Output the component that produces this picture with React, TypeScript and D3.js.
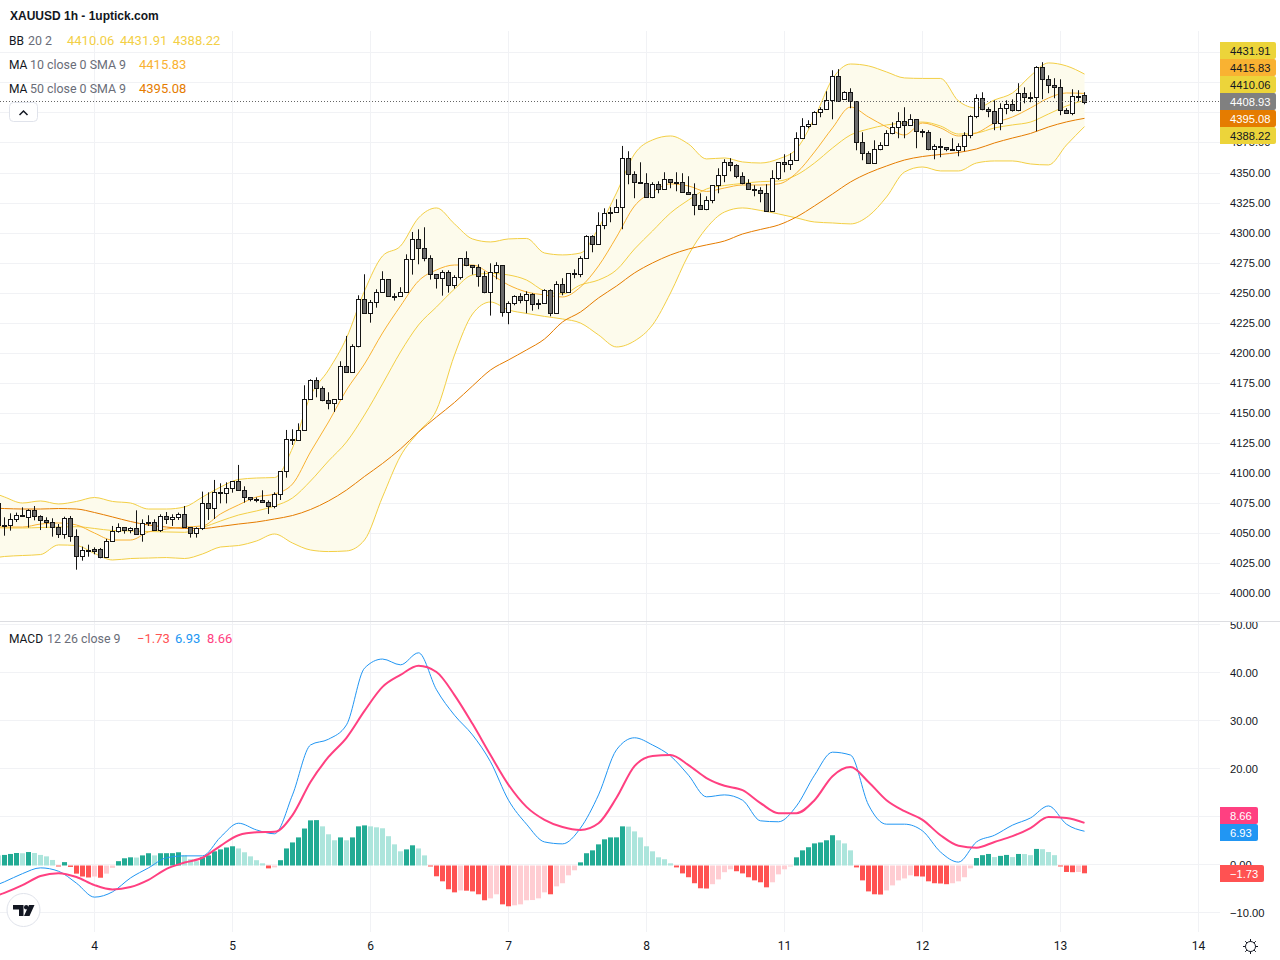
import * as d3 from 'd3'

// candle index -1 is the one cut off by the left edge, the last one is 180
const FIRST_CANDLE = -1

const opens = [
  4074.6, 4056.3, 4056.3, 4061.9, 4064.7, 4063.5, 4068.8, 4063.8, 4060.5, 4058.8,
  4054.7, 4048.8, 4062.2, 4047.2, 4031.1, 4035.5, 4036.4, 4036.4, 4029.7, 4043,
  4051.3, 4054.7, 4052.2, 4053.8, 4048.8, 4058.8, 4058.8, 4052.2, 4063.8, 4061.3,
  4063, 4065.5, 4054.7, 4049.7, 4053.8, 4074.6, 4070.5, 4083.8, 4083, 4087.1,
  4093, 4085.5, 4079.6, 4078, 4077.1, 4075.5, 4072.2, 4082.1, 4101.3, 4128.5,
  4127.4, 4135.4, 4161.2, 4177, 4170.4, 4160.4, 4157.9, 4161.2, 4188.7, 4183.7,
  4205.4, 4244.5, 4232.8, 4242, 4250.3, 4261.1, 4247, 4247, 4250.3, 4277.8,
  4294.4, 4286.9, 4278.6, 4265.3, 4262, 4267, 4256.1, 4262.8, 4278.6, 4272.8,
  4271.1, 4263.6, 4250.3, 4267, 4272.8, 4233.7, 4241.1, 4247, 4243.6, 4248.6,
  4241.1, 4241.1, 4252, 4232.8, 4257, 4250.3, 4266.1, 4265.3, 4278.6, 4296.9,
  4290.3, 4306.1, 4316.9, 4316.9, 4321.1, 4361.9, 4348.5, 4341.9, 4341, 4329.4,
  4340.2, 4336, 4344.4, 4341.9, 4341.9, 4333.6, 4331.9, 4322.7, 4319.4, 4326.9,
  4339.4, 4347.7, 4358.5, 4356, 4346.9, 4341, 4336, 4335.2, 4332.7, 4317.7,
  4345.2, 4358.5, 4356.9, 4360.2, 4378.5, 4388.5, 4390.2, 4400.2, 4402.7, 4410.1,
  4430.1, 4410.9, 4416.8, 4409.3, 4375.2, 4366, 4357.7, 4369.4, 4372.7, 4382.7,
  4387.7, 4392.7, 4389.3, 4394.3, 4384.3, 4383.5, 4369.4, 4371.9, 4371, 4369.4,
  4368.5, 4371.9, 4381, 4396.8, 4411.8, 4402.7, 4401, 4391, 4403.5, 4406.8,
  4401.8, 4416, 4412.6, 4412.6, 4437.6, 4427.6, 4422.6, 4421, 4401.8, 4399.3,
  4414, 4414.3,
]

const closes = [
  4056.3, 4056, 4061.9, 4064.7, 4063.8, 4068.8, 4063.8, 4060.5, 4058.8, 4054.7,
  4048.8, 4062.2, 4047.2, 4031.1, 4035.5, 4035.3, 4035.2, 4029.7, 4043, 4051.3,
  4054.7, 4052.2, 4053.8, 4048.8, 4058, 4058, 4052.2, 4063.8, 4061.3, 4063,
  4065.5, 4054.7, 4049.7, 4053.8, 4074.6, 4070.5, 4083.8, 4083, 4087.1, 4093,
  4085.5, 4079.6, 4078, 4077.1, 4075.5, 4072.2, 4082.1, 4101.3, 4128.5, 4127.4,
  4135.4, 4161.2, 4177, 4170.4, 4160.4, 4157.9, 4161.2, 4188.7, 4183.7, 4205.4,
  4244.5, 4232.8, 4242, 4250.3, 4261.1, 4247, 4246.8, 4250.3, 4277.8, 4294.4,
  4286.9, 4278.6, 4265.3, 4262, 4267, 4256.1, 4262.8, 4278.6, 4272.8, 4271.1,
  4263.6, 4250.3, 4267, 4272.8, 4233.7, 4241.1, 4247, 4243.6, 4248.6, 4240.3,
  4240.3, 4252, 4232.8, 4257, 4250.3, 4266.1, 4265.3, 4278.6, 4296.9, 4290.3,
  4306.1, 4316.1, 4316.1, 4321.1, 4361.9, 4348.5, 4341.9, 4341, 4329.4, 4340.2,
  4336, 4344.4, 4341.9, 4341.7, 4333.6, 4331.9, 4322.7, 4319.4, 4326.9, 4339.4,
  4347.7, 4358.5, 4356, 4346.9, 4341, 4336, 4335.2, 4332.7, 4317.7, 4345.2,
  4358.5, 4356.9, 4360.2, 4378.5, 4388.5, 4390.2, 4400.2, 4402.7, 4410.1, 4430.1,
  4409.3, 4416.8, 4409.3, 4375.2, 4366, 4357.7, 4369.4, 4372.7, 4382.7, 4387.7,
  4392.7, 4389.3, 4394.3, 4384.3, 4383.5, 4369.4, 4371.9, 4371, 4369.4, 4368.5,
  4371.9, 4381, 4396.8, 4411.8, 4402.7, 4401, 4391, 4403.5, 4406.8, 4401.8,
  4416, 4412.6, 4411.8, 4437.6, 4427.6, 4422.6, 4421, 4401.8, 4399.3, 4413.5,
  4413.5, 4408.93,
]

const highs = [
  4075.2, 4063, 4066.3, 4066.9, 4071.3, 4069.7, 4072.4, 4064.7, 4063, 4062.2,
  4057.4, 4063.5, 4064.1, 4053, 4038.6, 4040.2, 4038, 4037.5, 4045, 4055.8,
  4058, 4054.7, 4054.7, 4068.8, 4061.3, 4064.7, 4061.3, 4065.5, 4067.4, 4065.5,
  4066.9, 4072.4, 4054.7, 4054.7, 4084.4, 4083.8, 4094.1, 4091.3, 4092.1, 4093,
  4106.6, 4088.8, 4079.6, 4079.6, 4085.5, 4077.1, 4083.8, 4101.3, 4135.7, 4136.3,
  4141.2, 4172.9, 4177.9, 4179.5, 4172, 4167.1, 4161.2, 4192.9, 4214, 4207,
  4247.8, 4265.3, 4243.9, 4252.8, 4267.8, 4261.1, 4249.5, 4254.5, 4281.9, 4300.5,
  4302.7, 4304.4, 4281.1, 4265.3, 4268.6, 4268.6, 4264.5, 4278.6, 4284.4, 4272.8,
  4273.6, 4267.8, 4274.4, 4275.3, 4272.8, 4242.8, 4247.8, 4249.5, 4251.1, 4249.5,
  4244.5, 4252.8, 4252.8, 4259.5, 4262, 4266.1, 4269.4, 4280.3, 4297.8, 4297.8,
  4316.9, 4320.2, 4321.1, 4327.7, 4372.1, 4367.7, 4351, 4358.5, 4349.4, 4341.9,
  4342.7, 4350.2, 4344.4, 4350.2, 4349.4, 4346.9, 4341, 4332.7, 4330.2, 4339.4,
  4353.5, 4361, 4361.9, 4356.9, 4350.2, 4344.4, 4339.4, 4337.7, 4340.2, 4351.9,
  4358.5, 4365.2, 4366, 4383.5, 4395.2, 4393.5, 4401, 4404.3, 4417.6, 4435.1,
  4436, 4417.6, 4420.1, 4409.3, 4383.5, 4367.7, 4376.8, 4375.2, 4385.2, 4391.8,
  4400.2, 4404.3, 4398.5, 4394.3, 4386, 4385.2, 4373.5, 4378.5, 4371, 4378.5,
  4374.3, 4383.5, 4397.7, 4415.1, 4416.8, 4404.3, 4410.1, 4407.6, 4410.1, 4410.9,
  4424.3, 4420.9, 4416.8, 4438.5, 4441.8, 4430.9, 4428.5, 4427.6, 4403.5, 4419.3,
  4418.5, 4416.8,
]

const lows = [
  4054, 4047.7, 4051.9, 4059.1, 4063.3, 4054.4, 4060.5, 4052.4, 4054.1, 4046.9,
  4045.8, 4045.2, 4042.7, 4019.4, 4026.9, 4030.2, 4032.2, 4028.9, 4029.4, 4043,
  4050.2, 4049.4, 4049.7, 4048.8, 4042.7, 4055.8, 4051.6, 4050.8, 4057.4, 4055.8,
  4060.8, 4054.4, 4046.1, 4046.1, 4052.4, 4060.8, 4061.6, 4074.6, 4074.6, 4083.5,
  4085.5, 4075.2, 4076.3, 4075.5, 4075.5, 4065.8, 4070.5, 4077.4, 4096, 4123.2,
  4126.8, 4135.4, 4161.2, 4162.9, 4159.6, 4152.9, 4150.7, 4161.2, 4183.7, 4183.7,
  4204.5, 4232.8, 4225, 4237.5, 4250.3, 4247, 4243.4, 4247, 4250.3, 4265,
  4273.6, 4276.1, 4260.9, 4253.4, 4247.5, 4250, 4253.4, 4260.9, 4272, 4265,
  4255, 4249.5, 4230.9, 4261.1, 4230, 4223.7, 4239.5, 4241.1, 4232.8, 4235,
  4236.2, 4241.1, 4230.3, 4232.8, 4247.8, 4250.3, 4262, 4262.8, 4278.6, 4283.6,
  4290.3, 4302.8, 4308.6, 4316.9, 4302.8, 4340.2, 4328.6, 4341, 4329.4, 4328.6,
  4332.7, 4336, 4336.9, 4334.4, 4333.6, 4331.9, 4314.4, 4319.4, 4318.6, 4324.4,
  4332.7, 4341.9, 4351, 4345.2, 4340.2, 4336, 4330.2, 4325.2, 4317.7, 4317.7,
  4343.8, 4350.2, 4352.1, 4360.2, 4378.5, 4386.8, 4390.2, 4396, 4402.7, 4394.3,
  4409.3, 4410.9, 4403.5, 4368.5, 4360.2, 4357.7, 4357.7, 4368.5, 4372.7, 4381.8,
  4378.5, 4378.5, 4389.3, 4370.2, 4379.3, 4368.5, 4361, 4362.7, 4367.7, 4368.5,
  4363.5, 4367.7, 4378.5, 4395.2, 4401.8, 4396, 4385.2, 4385.2, 4398.5, 4400.7,
  4401, 4407.6, 4408.5, 4384.3, 4411, 4416, 4411.8, 4397.7, 4399.3, 4397.7,
  4409.3, 4406.8,
]

// indicator lines are read every third candle, starting at index -3
const sampleIdx = d3.range(-3, 181, 3)

const bbUpper = [
  4085.7, 4079.9, 4074.9, 4076.6, 4074.1, 4076.2, 4079.5, 4076.2, 4074.9, 4069.9, 4069.9,
  4071.6, 4079.9, 4088.2, 4094.5, 4095.7, 4096.1, 4120.7, 4164, 4185.6, 4212.3,
  4251.4, 4280.5, 4288.8, 4312.2, 4320.5, 4307.2, 4294.7, 4292.2, 4294.7, 4295.1,
  4283, 4281.4, 4283, 4303.8, 4333, 4365.4, 4377.1, 4380.4, 4373.7, 4361.3,
  4362.1, 4358.8, 4357.9, 4361.3, 4369.6, 4395.4, 4427.9, 4440.3, 4438.7, 4433.7,
  4428.7, 4428.3, 4428.3, 4409.5, 4403.7, 4410.4, 4416.2, 4430.4, 4441.2, 4438.7, 4431.91,
]

const bbLower = [
  4028.3, 4030.4, 4031.2, 4032, 4040, 4039.5, 4032.9, 4027.5, 4028.7, 4029.1, 4029.5,
  4028.7, 4032.5, 4038.3, 4039.5, 4043.3, 4049.1, 4041.6, 4035.8, 4034.5, 4035,
  4044.1, 4079.9, 4114, 4134, 4152.3, 4198.1, 4232.2, 4242.2, 4235.6, 4232.7,
  4230.2, 4228.1, 4224.7, 4214.8, 4204.8, 4209.8, 4223.1, 4249.7, 4281.4, 4303.8,
  4317.1, 4320.5, 4318.4, 4315.5, 4312.2, 4308.8, 4308, 4307.2, 4313.8, 4329.6,
  4350.4, 4354.6, 4351.3, 4351.3, 4357.9, 4359.6, 4359.6, 4357.1, 4356.3, 4372.9, 4388.22,
]

const bbBasis = [
  4054.9, 4054.1, 4054.1, 4054.5, 4054.9, 4055.2, 4053.7, 4052, 4051.6, 4051.2, 4050.8,
  4050.5, 4054.5, 4059.9, 4064.9, 4068.3, 4072.4, 4079.1, 4093.2, 4109.9, 4125.7,
  4148.2, 4174, 4200.6, 4223.1, 4238.1, 4253, 4264.7, 4266, 4264.7, 4260.5,
  4251.4, 4248.9, 4256.4, 4260.5, 4268.9, 4286.3, 4301.3, 4316.3, 4327.1, 4336.3,
  4339.2, 4340.9, 4342.4, 4342.9, 4347.9, 4357.9, 4370.4, 4381.2, 4386.2, 4389.6,
  4391.2, 4392, 4388.7, 4382, 4382.9, 4387.1, 4389.6, 4392, 4398.7, 4405.4, 4410.06,
]

const ma10 = [
  4056.6, 4054.9, 4054.9, 4057.4, 4058.3, 4056.6, 4049.9, 4044.1, 4044.1, 4050.8, 4053.3,
  4054.9, 4055.8, 4065.8, 4073.3, 4079.9, 4082.4, 4090.7, 4117.4, 4142.3, 4169,
  4190.6, 4216.4, 4238.9, 4259.7, 4268.9, 4273, 4273, 4265.5, 4256.4, 4250.6,
  4248.1, 4246.4, 4254.7, 4272.2, 4296.3, 4322.1, 4333.8, 4340.5, 4338.8, 4334.2,
  4337.1, 4339.6, 4339.6, 4340.5, 4349.6, 4367.1, 4387.1, 4404.5, 4396.2, 4387.9,
  4381.2, 4391.2, 4387.1, 4380.4, 4382.9, 4391.2, 4396.2, 4403.7, 4412, 4416.2, 4415.83,
]

const ma50 = [
  4070.8, 4070.3, 4069.9, 4069.9, 4070.3, 4069.9, 4067, 4063.3, 4059.5, 4056.6, 4054.9,
  4053.7, 4053.7, 4055.4, 4057.4, 4059.1, 4061.6, 4064.5, 4069.5, 4076.6, 4085.7,
  4097, 4107.8, 4119.9, 4134, 4146.5, 4158.6, 4172.3, 4185.6, 4194, 4202.3,
  4211.4, 4225.6, 4233.9, 4245.6, 4255.5, 4266.4, 4274.7, 4281.4, 4286.3, 4289.7,
  4293, 4298.8, 4302.6, 4306.3, 4313, 4322.2, 4332.1, 4342.1, 4349.6, 4355.4,
  4360.4, 4363.3, 4365, 4366.7, 4369.6, 4374.6, 4378.7, 4382.5, 4387.9, 4392.1, 4395.08,
]

const macdLine = [
  -5.1, -3.6, -1.9, -0.7, -1.4, -3.9, -6.8, -5.7, -2.8, -0.7, 1.4,
  1.8, 1.8, 5.7, 8.6, 7.2, 6.4, 14.5, 24.9, 26.1, 29.1,
  40.9, 42.8, 41.6, 44.1, 36.4, 31.1, 27, 21.4, 13.4, 8.4,
  4.7, 4.3, 7.6, 14.5, 23.9, 26.4, 24.9, 22.6, 18.6, 14.1,
  14.5, 13.4, 9.1, 8.9, 12.2, 18.6, 23.4, 22.8, 12.4, 8.4,
  8.4, 7, 2.6, 0.5, 4.7, 6.1, 8.2, 9.7, 12.2, 8.4, 6.93,
]

const signalLine = [
  -7.2, -5.9, -4.3, -2.4, -1.8, -2.6, -4.3, -5.2, -4.7, -3.2, -0.9,
  0.4, 1.4, 3.9, 6.1, 6.7, 6.8, 10.3, 17.2, 22.4, 26.4,
  32, 37, 39.5, 41.4, 40.1, 35.3, 29.3, 22.8, 16.6, 12,
  9.3, 7.8, 7.2, 8.6, 13.9, 20.5, 22.6, 22.8, 20.7, 18,
  16.4, 15.5, 12.8, 10.7, 10.7, 13.4, 18.4, 20.3, 17.2, 13.4,
  11.1, 9.3, 6.1, 3.9, 3.5, 4.7, 5.9, 7.6, 9.9, 9.7, 8.66,
]

const histogram = [
  2,
  2.1, 2.3, 2.5, 2.45, 2.7, 2.5, 2.1, 1.8, 1.05, -0.15,
  0.6, -0.4, -1.8, -2.4, -2.6, -2.4, -2.65, -1.8, -0.6, 0.8,
  1.4, 1.6, 1.55, 2, 2.45, 2, 2.45, 2.46, 2.47, 2.65,
  2, 1.2, 0.8, 1.6, 2, 2.85, 3.25, 3.65, 3.9, 3.45,
  2.65, 1.8, 1, 0.35, -0.7, -0.5, 1, 3.45, 4.7, 5.75,
  7.6, 9.3, 9.35, 8.05, 6.4, 5.15, 5.75, 5.15, 5.75, 8.05,
  8.25, 8.05, 7.85, 7.65, 6, 4.3, 2.85, 3.25, 4.1, 3.45,
  2, -0.3, -2.35, -3.4, -5.05, -5.7, -5.3, -5.35, -5.5, -6.1,
  -7.35, -6.95, -6.1, -8.2, -8.6, -8.4, -8.2, -7.35, -7.3, -6.95,
  -5.7, -6.1, -4.45, -3.8, -2.15, -1.1, 0.55, 2.45, 3.05, 4.3,
  5.35, 5.75, 5.76, 8.05, 8, 7, 5.75, 3.9, 2.85, 1.6,
  1.2, 0.35, -0.5, -1.75, -2.55, -3.8, -4.85, -4.9, -4, -3,
  -1.5, -0.9, -1.3, -1.75, -2.55, -3.2, -3.6, -4.65, -3.6, -1.95,
  -0.9, -0.3, 1.6, 3.05, 3.7, 4.5, 4.7, 5.15, 6.2, 5.15,
  4.5, 3.05, -0.5, -3.2, -5.5, -6.1, -6.15, -5.3, -4.25, -3.2,
  -2.8, -2.15, -2.35, -2.4, -3.4, -3.8, -3.85, -4, -3.8, -3.4,
  -2.55, -0.7, 1.45, 2.05, 2.3, 1.65, 1.9, 2.1, 1.65, 2.3,
  2.28, 2.05, 3.35, 3.3, 2.7, 2.05, -0.1, -1.45, -1.5, -1.45,
  -1.73,
]

const dayLabels = ['4', '5', '6', '7', '8', '11', '12', '13', '14']
const dayCandles = [15, 38, 61, 84, 107, 130, 153, 176, 199]

const priceGrid = d3.range(4000, 4451, 25)
const priceLabels = d3.range(4000, 4376, 25)
const macdTicks = [-10, 0, 20, 30, 40, 50]
const macdGrid = [-10, 0, 10, 20, 30, 40, 50]

const lastPrice = 4408.93

const priceTags = [
  { label: '4431.91', bg: '#ecd43a', fg: '#131722' },
  { label: '4415.83', bg: '#f9b232', fg: '#131722' },
  { label: '4410.06', bg: '#ecd43a', fg: '#131722' },
  { label: '4408.93', bg: '#808080', fg: '#ffffff' },
  { label: '4395.08', bg: '#e57c00', fg: '#ffffff' },
  { label: '4388.22', bg: '#ecd43a', fg: '#131722' },
]

const C = {
  grid: '#f1f2f5',
  text: '#131722',
  muted: '#6a6d78',
  bb: '#f3cf45',
  ma10: '#f9b232',
  ma50: '#e57c00',
  fill: '#fdfbec',
  macd: '#2196f3',
  signal: '#ff4081',
  up: '#22ab94',
  upLight: '#ace5dc',
  down: '#ff5252',
  downLight: '#ffcdd2',
  candle: '#151515',
  candleDown: '#6b6b6b',
}

const FONT = 'Roboto, "Liberation Sans", sans-serif'
const AXIS_FONT = '"Liberation Sans", Arial, sans-serif'
const AXIS_SIZE = 11.2
const PANE_RIGHT = 1220

const x = d3.scaleLinear().domain([0, 180]).range([4.5, 1084.5])
const yPrice = d3.scaleLinear().domain([4000, 4350]).range([593, 172.5])
const yMacd = d3.scaleLinear().domain([-10, 40]).range([912.5, 672.5])

function sampled(values: number[], y: d3.ScaleLinear<number, number>) {
  return d3
    .line<number>()
    .x((_, i) => x(sampleIdx[i]))
    .y(d => y(d))
    .curve(d3.curveMonotoneX)(values) as string
}

const bandPath = d3
  .area<number>()
  .x((_, i) => x(sampleIdx[i]))
  .y0((_, i) => yPrice(bbLower[i]))
  .y1(d => yPrice(d))
  .curve(d3.curveMonotoneX)(bbUpper) as string

function histColor(i: number) {
  const v = histogram[i]
  const prev = i > 0 ? histogram[i - 1] : v
  if (v >= 0) return v > prev ? C.up : C.upLight
  return v < prev ? C.down : C.downLight
}

function Tag({ y, w, label, bg, fg }: { y: number; w: number; label: string; bg: string; fg: string }) {
  return (
    <g>
      <path d={`M${PANE_RIGHT},${y}h${w - 2}q2,0 2,2v13q0,2 -2,2h${-(w - 2)}z`} fill={bg} />
      <text x={1230} y={y + 12.5} fontSize={AXIS_SIZE} fontFamily={AXIS_FONT} fill={fg}>
        {label}
      </text>
    </g>
  )
}

function LegendRow({ y, name, params, paramsX, values }: {
  y: number
  name: string
  params: string
  paramsX: number
  values: { x: number; text: string; color: string }[]
}) {
  return (
    <g>
      <text x={9} y={y} fontSize={12} fill={C.text}>{name}</text>
      <text x={paramsX} y={y} fontSize={12.4} fill={C.muted}>{params}</text>
      {values.map(v => (
        <text key={v.x} x={v.x} y={y} fontSize={13} fill={v.color}>{v.text}</text>
      ))}
    </g>
  )
}

export default function App() {
  const tagTop = 42
  const sunRays = d3.range(8).map(i => (i * Math.PI) / 4)

  return (
    <svg
      width={1280}
      height={960}
      fontFamily={FONT}
      style={{ position: 'fixed', left: 0, top: 0, background: '#fff' }}
    >
      <defs>
        <clipPath id="pane">
          <rect x={0} y={31} width={PANE_RIGHT} height={590} />
        </clipPath>
        <clipPath id="macdAxis">
          <rect x={PANE_RIGHT} y={622} width={60} height={310} />
        </clipPath>
      </defs>

      {/* grid */}
      {dayCandles.map(d => (
        <line key={d} x1={x(d)} x2={x(d)} y1={31} y2={932} stroke={C.grid} />
      ))}
      {priceGrid.map(p => (
        <line key={p} x1={0} x2={PANE_RIGHT} y1={Math.round(yPrice(p)) + 0.5} y2={Math.round(yPrice(p)) + 0.5} stroke={C.grid} />
      ))}
      {macdGrid.map(m => (
        <line key={m} x1={0} x2={PANE_RIGHT} y1={yMacd(m)} y2={yMacd(m)} stroke={C.grid} />
      ))}
      <line x1={0} x2={1280} y1={621.5} y2={621.5} stroke="#dcdde1" />

      {/* price pane */}
      <g clipPath="url(#pane)">
        <path d={bandPath} fill={C.fill} />
        <path d={sampled(bbUpper, yPrice)} fill="none" stroke={C.bb} />
        <path d={sampled(bbLower, yPrice)} fill="none" stroke={C.bb} />
        <path d={sampled(bbBasis, yPrice)} fill="none" stroke={C.bb} />
        <path d={sampled(ma10, yPrice)} fill="none" stroke={C.ma10} />
        <path d={sampled(ma50, yPrice)} fill="none" stroke={C.ma50} />

        {opens.map((o, i) => {
          const cx = x(i + FIRST_CANDLE)
          const c = closes[i]
          const top = Math.round(yPrice(Math.max(o, c))) + 0.5
          const bottom = Math.round(yPrice(Math.min(o, c))) + 0.5
          return (
            <g key={i}>
              <line x1={cx} x2={cx} y1={yPrice(highs[i])} y2={yPrice(lows[i])} stroke={C.candle} />
              <rect
                x={cx - 2}
                y={top}
                width={4}
                height={Math.max(bottom - top, 1)}
                fill={c >= o ? '#ffffff' : C.candleDown}
                stroke={C.candle}
              />
            </g>
          )
        })}
      </g>

      <line
        x1={0}
        x2={PANE_RIGHT}
        y1={Math.floor(yPrice(lastPrice)) + 0.5}
        y2={Math.floor(yPrice(lastPrice)) + 0.5}
        stroke="#666"
        strokeDasharray="1 2"
      />

      {/* macd pane */}
      {histogram.map((h, i) => {
        const cx = x(i + FIRST_CANDLE)
        const y0 = Math.round(yMacd(0)) + 0.5
        const y1 = yMacd(h) + 0.5
        return (
          <rect
            key={i}
            x={cx - 2.5}
            y={Math.min(y0, y1)}
            width={5}
            height={Math.max(Math.abs(y1 - y0), 1)}
            fill={histColor(i)}
          />
        )
      })}
      <path d={sampled(macdLine, yMacd)} fill="none" stroke={C.macd} />
      <path d={sampled(signalLine, yMacd)} fill="none" stroke={C.signal} strokeWidth={2} />

      {/* price axis */}
      <g fontSize={AXIS_SIZE} fontFamily={AXIS_FONT} fill={C.text}>
        {priceLabels.map(p => (
          <text key={p} x={1230} y={yPrice(p) + 4}>
            {p.toFixed(2)}
          </text>
        ))}
      </g>
      {priceTags.map((t, i) => (
        <Tag key={t.label} y={tagTop + i * 17} w={56} label={t.label} bg={t.bg} fg={t.fg} />
      ))}

      {/* macd axis */}
      <g clipPath="url(#macdAxis)" fontSize={AXIS_SIZE} fontFamily={AXIS_FONT} fill={C.text}>
        {macdTicks.map(m => (
          <text key={m} x={1230} y={yMacd(m) + 4}>
            {m < 0 ? '\u2212' + Math.abs(m).toFixed(2) : m.toFixed(2)}
          </text>
        ))}
      </g>
      <Tag y={807} w={38} label="8.66" bg={C.signal} fg="#fff" />
      <Tag y={824} w={38} label="6.93" bg={C.macd} fg="#fff" />
      <Tag y={865} w={44} label={'\u22121.73'} bg={C.down} fg="#fff" />

      {/* time axis */}
      {dayLabels.map((d, i) => (
        <text key={d} x={x(dayCandles[i])} y={950} fontSize={12} textAnchor="middle" fill={C.text}>
          {d}
        </text>
      ))}

      {/* legends */}
      <text x={10} y={19.5} fontSize={12} fontWeight={700} fontFamily={AXIS_FONT} fill={C.text}>
        XAUUSD 1h - 1uptick.com
      </text>
      <LegendRow
        y={45}
        name="BB"
        params="20 2"
        paramsX={28}
        values={[
          { x: 67, text: '4410.06', color: C.bb },
          { x: 120, text: '4431.91', color: C.bb },
          { x: 173, text: '4388.22', color: C.bb },
        ]}
      />
      <LegendRow y={69} name="MA" params="10 close 0 SMA 9" paramsX={30} values={[{ x: 139, text: '4415.83', color: C.ma10 }]} />
      <LegendRow y={93} name="MA" params="50 close 0 SMA 9" paramsX={30} values={[{ x: 139, text: '4395.08', color: C.ma50 }]} />
      <LegendRow
        y={643}
        name="MACD"
        params="12 26 close 9"
        paramsX={47}
        values={[
          { x: 137, text: '\u22121.73', color: C.down },
          { x: 175, text: '6.93', color: C.macd },
          { x: 207, text: '8.66', color: C.signal },
        ]}
      />

      {/* collapse button */}
      <rect x={9.5} y={102.5} width={28} height={19} rx={4} fill="#fff" stroke="#e0e3eb" />
      <path d="M19.5,115 l4,-4 l4,4" fill="none" stroke={C.text} strokeWidth={1.5} />

      {/* logo badge */}
      <circle cx={23.5} cy={910} r={16.5} fill="#fff" stroke="#e0e3eb" />
      <path
        d="M13,905h10.5v11h-4.5v-6.5h-6z M29,905h5.5l-5,11h-5.5z"
        fill={C.text}
      />
      <circle cx={26.2} cy={907.2} r={2.2} fill={C.text} />

      {/* settings icon */}
      <g fill="none" stroke={C.text} strokeWidth={1}>
        <circle cx={1250.5} cy={946.5} r={5} />
        {sunRays.map(a => (
          <line
            key={a}
            x1={1250.5 + Math.cos(a) * 5}
            y1={946.5 + Math.sin(a) * 5}
            x2={1250.5 + Math.cos(a) * 7.5}
            y2={946.5 + Math.sin(a) * 7.5}
          />
        ))}
      </g>
    </svg>
  )
}
